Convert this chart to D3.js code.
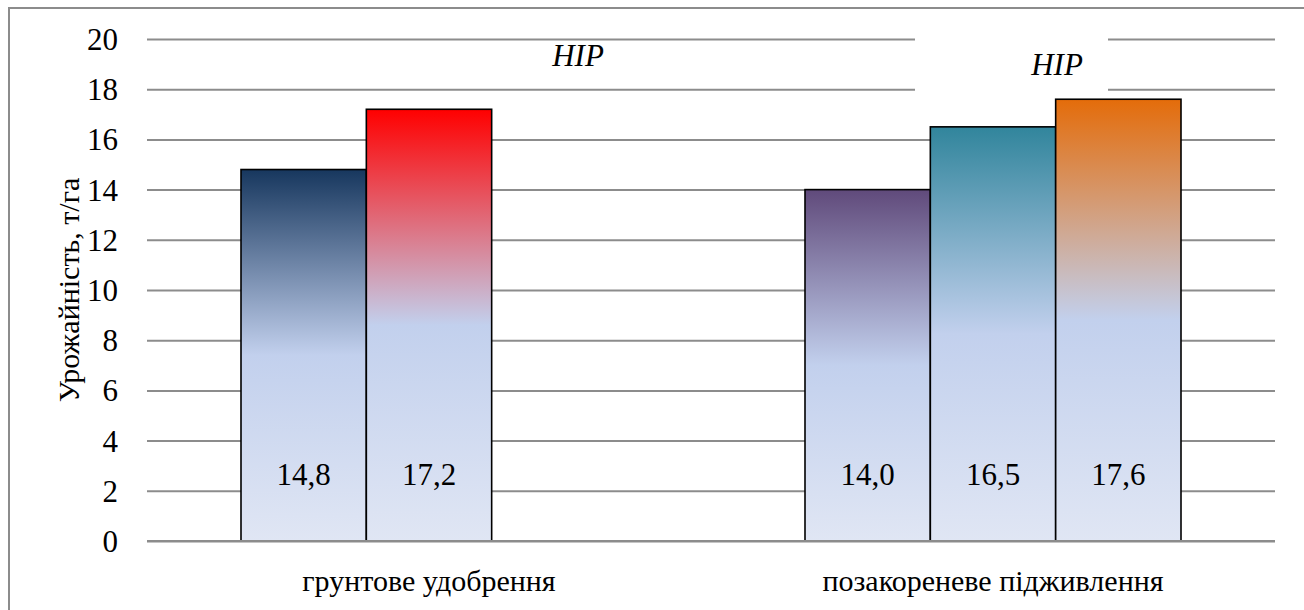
<!DOCTYPE html>
<html><head><meta charset="utf-8">
<script src="https://cdn.jsdelivr.net/npm/d3@7"></script>
</head><body style="margin:0">
<svg id="chart" width="1304" height="610"></svg>
<script>
const categories = ["грунтове удобрення", "позакореневе підживлення"];
const seriesKeys = ["s1", "s2", "s3"];
const series1 = [14.8, 14.0];
const series2 = [17.2, 16.5];
const series3 = [null, 17.6];
const barTopColors = [["#17375E", "#FF0000", null], ["#604A7B", "#31859C", "#E46C0A"]];
const yTicks = [0, 2, 4, 6, 8, 10, 12, 14, 16, 18, 20];
const yTitle = "Урожайність, т/га";
const annotation = "НІР";

const svg = d3.select("#chart");
const FONT = '"Liberation Serif"';
const pLeft = 147, pRight = 1275, pTop = 39, pBottom = 541;

svg.append("rect").attr("x", 9).attr("y", 8).attr("width", 1300).attr("height", 610)
  .attr("fill", "#fff").attr("stroke", "#8c8c8c").attr("stroke-width", 2);

const y = d3.scaleLinear().domain([0, 20]).range([pBottom, pTop]);
const x0 = d3.scaleBand().domain(categories).range([pLeft, pRight]).paddingInner(1/3).paddingOuter(1/6);
const x1 = d3.scaleBand().domain(seriesKeys).range([0, x0.bandwidth()]).padding(0);

const yAxis = d3.axisLeft(y).tickValues(yTicks).tickSize(-(pRight - pLeft)).tickFormat(d3.format("d"));
const ga = svg.append("g").attr("transform", `translate(${pLeft},0)`).call(yAxis);
ga.select(".domain").remove();
ga.selectAll(".tick line").attr("stroke", "#8c8c8c").attr("stroke-width", 2);
ga.selectAll(".tick text").attr("x", -29).attr("fill", "#000").attr("dy", "0.34em")
  .attr("font-family", FONT).attr("font-size", 31);

const rows = categories.map((c, i) => ({cat: c, vals: [series1[i], series2[i], series3[i]], colors: barTopColors[i], ci: i}));

const defs = svg.append("defs");
rows.forEach(r => r.vals.forEach((v, j) => {
  if (v == null) return;
  const g = defs.append("linearGradient").attr("id", `g${r.ci}_${j}`).attr("x1", 0).attr("y1", 0).attr("x2", 0).attr("y2", 1);
  g.append("stop").attr("offset", "0%").attr("stop-color", r.colors[j]);
  g.append("stop").attr("offset", "50%").attr("stop-color", "#c2d0ed");
  g.append("stop").attr("offset", "100%").attr("stop-color", "#e0e6f4");
}));

const fmt = v => d3.format(".1f")(v).replace(".", ",");

const groups = svg.append("g").selectAll("g").data(rows).join("g")
  .attr("transform", d => `translate(${x0(d.cat)},0)`);
groups.each(function(r) {
  const g = d3.select(this);
  r.vals.forEach((v, j) => {
    if (v == null) return;
    g.append("rect").attr("x", x1(seriesKeys[j])).attr("y", y(v))
      .attr("width", x1.bandwidth()).attr("height", y(0) - y(v))
      .attr("fill", `url(#g${r.ci}_${j})`).attr("stroke", "#000").attr("stroke-width", 1.6);
    g.append("text").attr("x", x1(seriesKeys[j]) + x1.bandwidth() / 2).attr("y", y(2.25))
      .attr("text-anchor", "middle")
      .attr("font-family", FONT).attr("font-size", 31).text(fmt(v));
  });
});

svg.append("line").attr("x1", pLeft).attr("x2", pRight).attr("y1", y(0)).attr("y2", y(0)).attr("stroke", "#8c8c8c").attr("stroke-width", 2);

categories.forEach(c => {
  svg.append("text").attr("x", x0(c) + x0.bandwidth() / 2).attr("y", 591)
    .attr("text-anchor", "middle").attr("font-family", FONT).attr("font-size", 30).text(c);
});

svg.append("text").attr("transform", `translate(79,${(pTop + pBottom) / 2}) rotate(-90)`)
  .attr("text-anchor", "middle").attr("font-family", FONT).attr("font-size", 30).text(yTitle);

svg.append("text").attr("x", 578).attr("y", 66).attr("text-anchor", "middle")
  .attr("font-family", FONT).attr("font-style", "italic").attr("font-size", 31).text(annotation);
svg.append("rect").attr("x", 915).attr("y", 33).attr("width", 193).attr("height", 60).attr("fill", "#fff");
svg.append("text").attr("x", 1057).attr("y", 75).attr("text-anchor", "middle")
  .attr("font-family", FONT).attr("font-style", "italic").attr("font-size", 31).text(annotation);
</script>
</body></html>
